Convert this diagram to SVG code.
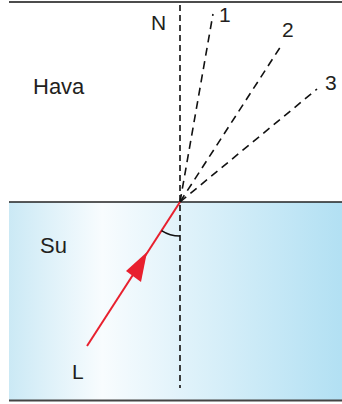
<svg xmlns="http://www.w3.org/2000/svg" width="342" height="404" viewBox="0 0 342 404">
<defs>
<linearGradient id="water" x1="0" y1="0" x2="1" y2="0">
<stop offset="0" stop-color="#cbe9f5"/>
<stop offset="0.28" stop-color="#f8fcfe"/>
<stop offset="1" stop-color="#b2e0f3"/>
</linearGradient>
<style>
text{font-family:"Liberation Sans",Arial,sans-serif;font-size:21px;fill:#231f20}
.dash{stroke:#111;stroke-width:1.6;stroke-dasharray:8 5.5;fill:none}
.ray{stroke:#e8202e;stroke-width:2;fill:none}
</style>
</defs>
<rect x="9" y="202" width="333" height="198" fill="url(#water)"/>
<line x1="9" y1="2" x2="342" y2="2" stroke="#111" stroke-width="1.5"/>
<line x1="9" y1="202" x2="342" y2="202" stroke="#222" stroke-width="1.3"/>
<line x1="9" y1="400.5" x2="342" y2="400.5" stroke="#444" stroke-width="2"/>
<g id="connectors">
<line class="dash" x1="180" y1="5" x2="180" y2="388" stroke-width="2" style="stroke-dasharray:6 4"/>
<line class="dash" x1="180" y1="202" x2="213" y2="14"/>
<line class="dash" x1="180" y1="202" x2="281" y2="46"/>
<line class="dash" x1="180" y1="202" x2="317" y2="89"/>
<line class="ray" x1="87" y1="346" x2="180" y2="202"/>
<polygon points="147,252 126,271 141,282" fill="#e8202e"/>
<path d="M161.5,230.6 A34,34 0 0 0 180,236" stroke="#111" stroke-width="1.5" fill="none"/>
</g>
<g id="N"><text x="151" y="30">N</text></g>
<g id="r1"><text x="219" y="22">1</text></g>
<g id="r2"><text x="282" y="37">2</text></g>
<g id="r3"><text x="325" y="90">3</text></g>
<g id="hava"><text x="33" y="94" style="font-size:22px">Hava</text></g>
<g id="su"><text x="40" y="253" style="font-size:22px">Su</text></g>
<g id="L"><text x="72" y="379">L</text></g>
</svg>
